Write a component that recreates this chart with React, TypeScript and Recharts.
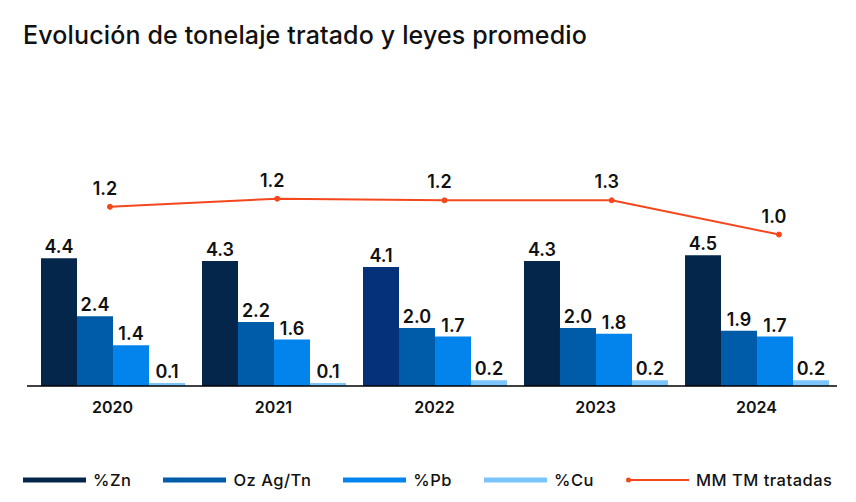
import { ComposedChart, Bar, Line, XAxis, YAxis, LabelList, Cell } from 'recharts';

const years = ['2020', '2021', '2022', '2023', '2024'];
const zn = [4.4, 4.3, 4.1, 4.3, 4.5];
const ag = [2.4, 2.2, 2.0, 2.0, 1.9];
const pb = [1.4, 1.6, 1.7, 1.8, 1.7];
const cu = [0.1, 0.1, 0.2, 0.2, 0.2];
// tonnage line, read from the point positions; labels as printed on the chart
const tonnage = [1.21, 1.26, 1.25, 1.25, 1.04];
const tonnageLabels = ['1.2', '1.2', '1.2', '1.3', '1.0'];

const colors = {
  zn: '#03264a',
  zn2022: '#04317a',
  ag: '#005ba9',
  pb: '#0284ec',
  cu: '#7cc5fb',
  line: '#f5471c',
};

const data = years.map((year, i) => ({ year, idx: i, zn: zn[i], ag: ag[i], pb: pb[i], cu: cu[i], tonnage: tonnage[i] }));

const legendItems = [
  { name: '%Zn', color: colors.zn },
  { name: 'Oz Ag/Tn', color: colors.ag },
  { name: '%Pb', color: colors.pb },
  { name: '%Cu', color: colors.cu },
  { name: 'MM TM tratadas', color: colors.line, line: true },
];

const labelStyle = { fontSize: 18, fontWeight: 600, fill: '#111' };
const fmt = (v: any) => Number(v).toFixed(1);

export default function App() {
  return (
    <div style={{ position: 'absolute', left: 0, top: 0, width: 856, height: 502, background: '#fff', fontFamily: 'Inter, sans-serif' }}>
      <div style={{ position: 'absolute', left: 23, top: 20, fontSize: 25, fontWeight: 500, color: '#111', letterSpacing: 0.15, whiteSpace: 'nowrap' }}>
        Evolución de tonelaje tratado y leyes promedio
      </div>
      <ComposedChart
        width={856}
        height={502}
        data={data}
        margin={{ top: 158, right: 19, left: 27, bottom: 86 }}
        barGap={0}
        barCategoryGap={9}
      >
        <XAxis
          xAxisId="bar"
          dataKey="year"
          height={30}
          padding={{ left: 5, right: 0 }}
          axisLine={{ stroke: '#000', strokeWidth: 1.5 }}
          tickLine={false}
          tickMargin={10}
          tick={{ fontSize: 16, fontWeight: 600, fill: '#111' }}
        />
        <XAxis xAxisId="line" dataKey="idx" type="number" domain={[-0.496, 4.347]} allowDataOverflow hide />
        <YAxis yAxisId="bar" domain={[0, 7.85]} hide />
        <YAxis yAxisId="line" domain={[0.11, 1.51]} hide />
        <Bar xAxisId="bar" yAxisId="bar" dataKey="zn" fill={colors.zn} isAnimationActive={false}>
          {data.map((d) => (
            <Cell key={d.year} fill={d.year === '2022' ? colors.zn2022 : colors.zn} />
          ))}
          <LabelList dataKey="zn" position="top" formatter={fmt} style={labelStyle} />
        </Bar>
        <Bar xAxisId="bar" yAxisId="bar" dataKey="ag" fill={colors.ag} isAnimationActive={false}>
          <LabelList dataKey="ag" position="top" formatter={fmt} style={labelStyle} />
        </Bar>
        <Bar xAxisId="bar" yAxisId="bar" dataKey="pb" fill={colors.pb} isAnimationActive={false}>
          <LabelList dataKey="pb" position="top" formatter={fmt} style={labelStyle} />
        </Bar>
        <Bar xAxisId="bar" yAxisId="bar" dataKey="cu" fill={colors.cu} isAnimationActive={false}>
          <LabelList dataKey="cu" position="top" formatter={fmt} style={labelStyle} />
        </Bar>
        <Line
          xAxisId="line"
          yAxisId="line"
          dataKey="tonnage"
          stroke={colors.line}
          strokeWidth={2}
          dot={{ r: 2.5, fill: colors.line, stroke: colors.line, strokeWidth: 1 }}
          isAnimationActive={false}
        >
          <LabelList
            dataKey="tonnage"
            position="top"
            offset={12}
            content={(p: any) => (
              <text x={p.x - 5} y={p.y - 12} textAnchor="middle" style={labelStyle}>
                {tonnageLabels[p.index]}
              </text>
            )}
          />
        </Line>
      </ComposedChart>
      <div style={{ position: 'absolute', left: 23, top: 470, width: 833, display: 'flex', alignItems: 'center', fontSize: 16.5, fontWeight: 500, color: '#111', letterSpacing: 0.5, whiteSpace: 'nowrap' }}>
        {legendItems.map((item) => (
          <div key={item.name} style={{ display: 'flex', alignItems: 'center', marginRight: 32, flexShrink: 0 }}>
            <svg width={63} height={8} style={{ marginRight: 7, flexShrink: 0 }}>
              {item.line ? (
                <>
                  <line x1={1} y1={4} x2={63} y2={4} stroke={item.color} strokeWidth={2} />
                  <circle cx={2.5} cy={4} r={2.5} fill={item.color} />
                </>
              ) : (
                <rect x={0} y={1.5} width={63} height={5} fill={item.color} />
              )}
            </svg>
            <span>{item.name}</span>
          </div>
        ))}
      </div>
    </div>
  );
}
